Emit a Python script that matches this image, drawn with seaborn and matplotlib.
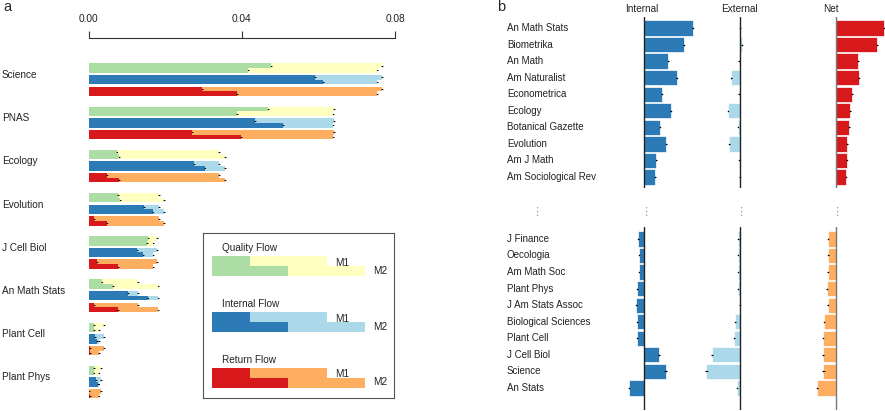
import numpy as np
import matplotlib
matplotlib.use("Agg")
import matplotlib.pyplot as plt
import matplotlib.transforms as mtransforms
import seaborn as sns

sns.set_style("white")
plt.rcParams['font.family'] = ['Liberation Sans', 'DejaVu Sans']

# ---- panel a data (flow per citation, two models M1/M2) ----
journals_a = ["Science", "PNAS", "Ecology", "Evolution", "J Cell Biol",
              "An Math Stats", "Plant Cell", "Plant Phys"]
total_m1 = [0.0766, 0.0641, 0.0341, 0.0184, 0.0179, 0.0129, 0.0040, 0.0032]
total_m2 = [0.0754, 0.0639, 0.0356, 0.0196, 0.0169, 0.0182, 0.0027, 0.0026]
quality_m1 = [0.0477, 0.0469, 0.0073, 0.0076, 0.0156, 0.0034, 0.0014, 0.0014]
quality_m2 = [0.0417, 0.0388, 0.0080, 0.0083, 0.0152, 0.0064, 0.0014, 0.0013]
internal_m1 = [0.0591, 0.0434, 0.0276, 0.0144, 0.0127, 0.0103, 0.0016, 0.0019]
internal_m2 = [0.0612, 0.0508, 0.0303, 0.0167, 0.0143, 0.0154, 0.0021, 0.0023]
return_m1 = [0.0297, 0.0271, 0.0047, 0.0015, 0.0021, 0.0015, 0.0003, 0.0002]
return_m2 = [0.0388, 0.0399, 0.0079, 0.0047, 0.0076, 0.0076, 0.0004, 0.0003]

flows = [("Quality Flow", quality_m1, quality_m2, "#abdda4", "#ffffbf"),
         ("Internal Flow", internal_m1, internal_m2, "#2c7bb6", "#abd9e9"),
         ("Return Flow", return_m1, return_m2, "#d7191c", "#fdae61")]
key_dark = [0.01, 0.02]
key_light = [0.03, 0.04]

# ---- panel b data ----
top_names = ["An Math Stats", "Biometrika", "An Math", "Am Naturalist", "Econometrica",
             "Ecology", "Botanical Gazette", "Evolution", "Am J Math", "Am Sociological Rev"]
top_internal = [48.3, 39.3, 24.0, 32.3, 17.3, 26.3, 15.7, 22.0, 12.0, 11.0]
top_external = [0.3, 1.7, -1.3, -9.0, -1.3, -12.0, -2.0, -10.7, -1.0, -0.5]
top_net = [48.3, 41.7, 22.7, 23.0, 16.7, 14.7, 13.7, 11.3, 11.0, 10.3]
bottom_names = ["J Finance", "Oecologia", "Am Math Soc", "Plant Phys", "J Am Stats Assoc",
                "Biological Sciences", "Plant Cell", "J Cell Biol", "Science", "An Stats"]
bottom_internal = [-6.0, -5.3, -5.3, -7.0, -8.0, -7.0, -7.0, 15.0, 21.3, -15.3]
bottom_external = [-1.7, -2.0, -2.0, -2.0, -0.3, -4.7, -5.7, -28.0, -33.7, -3.0]
bottom_net = [-7.7, -7.3, -8.0, -9.0, -8.0, -11.7, -12.7, -12.7, -12.3, -18.3]
top_err = [0.4, 0.4, 0.4, 0.5, 0.3, 0.4, 0.3, 0.5, 0.3, 0.3]
bottom_err = [0.3, 0.3, 0.3, 0.3, 0.4, 0.3, 0.3, 0.9, 1.6, 0.4]

W, H = 885, 411
fig = plt.figure(figsize=(W / 100, H / 100), dpi=100)


def px_rect(x0, y0, x1, y1):
    return [x0 / W, 1 - y1 / H, (x1 - x0) / W, (y1 - y0) / H]


# ================= panel a =================
ax = fig.add_axes(px_rect(88.7, 38, 395, 405))
idx = np.arange(len(journals_a))
half = 0.109
offsets = [-0.27, 0.0, 0.27]
for (name, m1, m2, dark, light), off in zip(flows, offsets):
    yc = idx + off
    ax.barh(yc - half / 2, total_m1, height=half, color=light, edgecolor='none')
    ax.barh(yc + half / 2, total_m2, height=half, color=light, edgecolor='none')
    ax.barh(yc - half / 2, m1, height=half, color=dark, edgecolor='none')
    ax.barh(yc + half / 2, m2, height=half, color=dark, edgecolor='none')
    for vals, yy in [(m1, yc - half / 2), (m2, yc + half / 2),
                     (total_m1, yc - half / 2), (total_m2, yc + half / 2)]:
        ax.errorbar(vals, yy, xerr=0.0002, fmt='o', ms=0.9, mew=0, color='black',
                    elinewidth=0.5, capsize=0, zorder=3)
ax.set_xlim(0, 0.08)
ax.set_ylim(7.53, -0.965)
ax.xaxis.tick_top()
ax.set_xticks([0, 0.04, 0.08])
ax.set_xticklabels(["0.00", "0.04", "0.08"])
ax.set_yticks([])
ax.tick_params(axis='x', direction='out', length=5, width=0.8, pad=5,
               labelsize=7.3, color='#333333', labelcolor='#222222')
for s in ['left', 'right', 'bottom']:
    ax.spines[s].set_visible(False)
ax.spines['top'].set_color('#333333')
ax.spines['top'].set_linewidth(0.8)
trans_a = mtransforms.blended_transform_factory(fig.transFigure, ax.transData)
for i, name in enumerate(journals_a):
    ax.text(2 / W, i - 0.11, name, transform=trans_a, ha='left', va='center',
            fontsize=7.2, color='#222222')

# legend box
lg = fig.add_axes(px_rect(203.3, 232.7, 394, 398.3))
lg.set_xlim(-0.00219, 0.0476)
lg.set_ylim(165.6, 0)
lg.set_xticks([])
lg.set_yticks([])
for s in lg.spines.values():
    s.set_color('#555555')
    s.set_linewidth(0.8)
for k, (name, m1, m2, dark, light) in enumerate(flows):
    base = 28.3 + k * 55.85
    lg.barh([base, base + 10], key_light, height=10, color=light, edgecolor='none')
    lg.barh([base, base + 10], key_dark, height=10, color=dark, edgecolor='none')
    lg.text(0.0027, base - 13, name, fontsize=7.2, va='center', ha='left', color='#222222')
    lg.text(0.0322, base + 1.7, "M1", fontsize=7.2, va='center', ha='left', color='#222222')
    lg.text(0.0421, base + 9.7, "M2", fontsize=7.2, va='center', ha='left', color='#222222')

# ================= panel b =================
col_edges = [(605, 695), (695, 790), (790, 885)]
col_zero = [644.3, 740.0, 835.7]
rows = [(17, 188, (9.66, -0.66), top_names,
         [top_internal, top_external, top_net], top_err, "#d7191c"),
        (227, 410, (10.33, -0.72), bottom_names,
         [bottom_internal, bottom_external, bottom_net], bottom_err, "#fdae61")]
col_colors = ["#2c7bb6", "#abd9e9", None]
line_colors = ["#222222", "#222222", "#777777"]

for y0, y1, ylim, names, series, errs, net_color in rows:
    first_ax = None
    for c, ((x0, x1), z) in enumerate(zip(col_edges, col_zero)):
        bx = fig.add_axes(px_rect(x0, y0, x1, y1))
        color = col_colors[c] if col_colors[c] else net_color
        sns.barplot(x=series[c], y=names, orient='h', color=color, saturation=1,
                    width=0.92, errorbar=None, edgecolor='white', linewidth=0.5, ax=bx)
        bx.errorbar(series[c], np.arange(len(names)), xerr=errs, fmt='o', ms=1.1, mew=0,
                    color='black', elinewidth=0.6, capsize=0, zorder=3)
        bx.axvline(0, color=line_colors[c], lw=1.0, zorder=4)
        bx.set_xlim(x0 - z, x1 - z)
        bx.set_ylim(*ylim)
        bx.set_xticks([])
        bx.set_yticks([])
        bx.set_xlabel('')
        bx.set_ylabel('')
        for s in bx.spines.values():
            s.set_visible(False)
        bx.patch.set_alpha(0)
        if first_ax is None:
            first_ax = bx
    trans_b = mtransforms.blended_transform_factory(fig.transFigure, first_ax.transData)
    for i, name in enumerate(names):
        first_ax.text(507 / W, i, name, transform=trans_b, ha='left', va='center',
                      fontsize=7, color='#222222')

for label, x in [("Internal", 641.7), ("External", 739.3), ("Net", 831)]:
    fig.text(x / W, 1 - 9 / H, label, ha='center', va='center', fontsize=7.2, color='#222222')
for x in [536.7, 645.7, 740.7, 836.7]:
    fig.text(x / W, 1 - 212 / H, "\u22ee", ha='center', va='center', fontsize=8, color='#999999')

fig.text(3 / W, 1 - 7 / H, "a", ha='left', va='center', fontsize=10.5)
fig.text(497 / W, 1 - 7 / H, "b", ha='left', va='center', fontsize=10.5)

fig.savefig("out.png", dpi=100)
